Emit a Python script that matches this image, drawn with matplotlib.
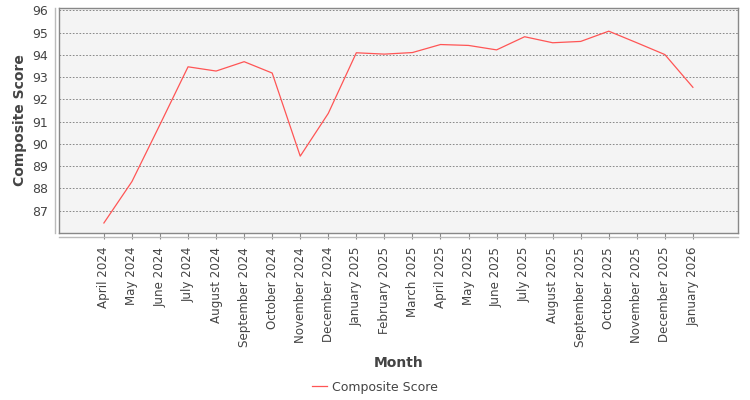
import matplotlib
matplotlib.use("Agg")
import matplotlib.pyplot as plt
from matplotlib.lines import Line2D

months = ["April 2024", "May 2024", "June 2024", "July 2024", "August 2024",
          "September 2024", "October 2024", "November 2024", "December 2024",
          "January 2025", "February 2025", "March 2025", "April 2025", "May 2025",
          "June 2025", "July 2025", "August 2025", "September 2025", "October 2025",
          "November 2025", "December 2025", "January 2026"]
scores = [86.45, 88.31, 90.87, 93.46, 93.27, 93.69, 93.18, 89.45, 91.37,
          94.09, 94.03, 94.10, 94.46, 94.42, 94.22, 94.81, 94.54, 94.60,
          95.06, 94.54, 94.01, 92.54]
y_ticks = [87, 88, 89, 90, 91, 92, 93, 94, 95, 96]

text_col = "#444444"
edge_col = "#888888"

fig = plt.figure(figsize=(7.5, 4), dpi=100)
ax = fig.add_axes([0.0787, 0.4175, 0.905, 0.5625])
ax.set_facecolor("#f4f4f4")

x = list(range(len(months)))
ax.plot(x, scores, color="#ff5555", lw=0.9, label="Composite Score")

ax.set_xlim(-1.6, 22.6)
ax.set_ylim(86.0, 96.1)
ax.set_yticks(y_ticks)
ax.set_xticks(x)
ax.set_xticklabels(months, rotation=90, fontsize=8.6, color=text_col)
ax.tick_params(axis="y", labelsize=9, labelcolor=text_col, length=0, pad=8)
ax.tick_params(axis="x", length=4, color=edge_col, pad=6)
ax.grid(axis="y", color="#777777", ls=(0, (2, 2)), lw=0.6)
ax.set_axisbelow(True)

for s in ax.spines.values():
    s.set_color(edge_col)
    s.set_linewidth(1)

# separate axis lines, offset from the plot outline
ax.add_line(Line2D([-0.006, -0.006], [0, 1], transform=ax.transAxes,
                   color="#bbbbbb", lw=1, clip_on=False))
ax.add_line(Line2D([0, 1], [-0.018, -0.018], transform=ax.transAxes,
                   color="#bbbbbb", lw=1, clip_on=False))

ax.set_ylabel("Composite Score", fontsize=10, fontweight="bold", color=text_col)
ax.yaxis.set_label_coords(-0.057, 0.5)
ax.yaxis.label.set_va("center")
ax.set_xlabel("Month", fontsize=10, fontweight="bold", color=text_col)
ax.xaxis.set_label_coords(0.5, (233 - 363) / 225.0)
ax.xaxis.label.set_va("center")

fig.legend(loc="center", bbox_to_anchor=(0.5, 1 - 387 / 400), frameon=False,
           fontsize=9, labelcolor=text_col, handlelength=1.2, handletextpad=0.4)

fig.savefig("out.png", dpi=100)
